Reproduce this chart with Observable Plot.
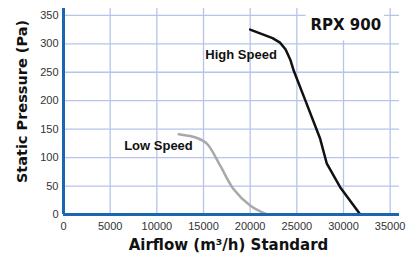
<!DOCTYPE html>
<html>
<head>
<meta charset="utf-8">
<script src="https://cdn.jsdelivr.net/npm/d3@7"></script>
<script src="https://cdn.jsdelivr.net/npm/@observablehq/plot@0.6"></script>
<style>
  html, body { margin: 0; padding: 0; background: #fff; }
  #chart svg { display: block; }
</style>
</head>
<body>
<div id="chart"></div>
<script>
// ---- data ----
const xTicks = [0, 5000, 10000, 15000, 20000, 25000, 30000, 35000];
const yTicks = [0, 50, 100, 150, 200, 250, 300, 350];

const highAirflow  = [20000, 22400, 23200, 23800, 24300, 24640, 25900, 27500, 28200, 29640, 31800];
const highPressure = [325,   310,   302,   290,   272,   254,   201,   133,   90,    48,    0];

const lowAirflow  = [12350, 14300, 15360, 16790, 18210, 20000, 21800];
const lowPressure = [141,   134.5, 124.5, 86,    45,    16,    0];

const seriesLabels = ["High Speed", "Low Speed"];
const labelX = [15200, 6500];
const labelY = [280, 120];

const chartTitle = "RPX 900";
const titleX = 30250, titleY = 332;
const titleBox = [{x1: 26000, x2: 34400, y1: 305, y2: 362}];

const xTitle = "Airflow (m³/h) Standard";
const yTitle = "Static Pressure (Pa)";

// ---- build tables ----
const high = highAirflow.map((x, i) => ({x, y: highPressure[i]}));
const low = lowAirflow.map((x, i) => ({x, y: lowPressure[i]}));
const labels = seriesLabels.map((t, i) => ({t, x: labelX[i], y: labelY[i]}));

const gridColor = "#b7c4ea";
const axisBlue = "#1b66b1";
const boldFont = "DejaVu Sans, Liberation Sans, Arial, sans-serif";

const chart = Plot.plot({
  width: 409,
  height: 255,
  marginLeft: 63,
  marginRight: 10,
  marginTop: 8,
  marginBottom: 41,
  x: {domain: [0, 36000]},
  y: {domain: [0, 362]},
  style: {fontFamily: "Liberation Sans, Arial, Helvetica, sans-serif", fontSize: "11px", color: "#333", background: "#fff"},
  marks: [
    Plot.gridX(xTicks.filter(d => d > 0), {stroke: gridColor, strokeOpacity: 1, strokeWidth: 1.3}),
    Plot.gridY(yTicks.filter(d => d > 0), {stroke: gridColor, strokeOpacity: 1, strokeWidth: 1.3}),
    Plot.rect(titleBox, {x1: "x1", x2: "x2", y1: "y1", y2: "y2", fill: "#fff"}),
    Plot.axisX(xTicks, {tickSize: 0, tickPadding: 8, tickFormat: d => String(d), label: null, fill: "#333"}),
    Plot.axisY(yTicks, {tickSize: 0, tickPadding: 5, tickFormat: d => String(d), label: null, fill: "#333"}),
    Plot.line(low, {x: "x", y: "y", stroke: "#a9a9a9", strokeWidth: 2.5, curve: "catmull-rom"}),
    Plot.line(high, {x: "x", y: "y", stroke: "#111", strokeWidth: 2.5, strokeLinejoin: "round"}),
    Plot.ruleX([0], {stroke: axisBlue, strokeWidth: 3}),
    Plot.ruleY([0], {stroke: axisBlue, strokeWidth: 3}),
    Plot.text(labels, {x: "x", y: "y", text: "t", textAnchor: "start", fontWeight: "bold", fontSize: 13, fill: "#111", fontFamily: "Liberation Sans, Arial, sans-serif"}),
    Plot.text([chartTitle], {x: titleX, y: titleY, text: d => d, fontWeight: "bold", fontSize: 15, fill: "#111", fontFamily: boldFont}),
    Plot.text([xTitle], {frameAnchor: "bottom", dx: -3, dy: 31, lineAnchor: "middle", textAnchor: "middle", text: d => d, fontWeight: "bold", fontSize: 15, fill: "#111", fontFamily: boldFont}),
    Plot.text([yTitle], {frameAnchor: "left", rotate: -90, dx: -41, dy: -10, lineAnchor: "middle", textAnchor: "middle", text: d => d, fontWeight: "bold", fontSize: 14.5, fill: "#111", fontFamily: boldFont})
  ]
});
document.getElementById("chart").appendChild(chart);
</script>
</body>
</html>
